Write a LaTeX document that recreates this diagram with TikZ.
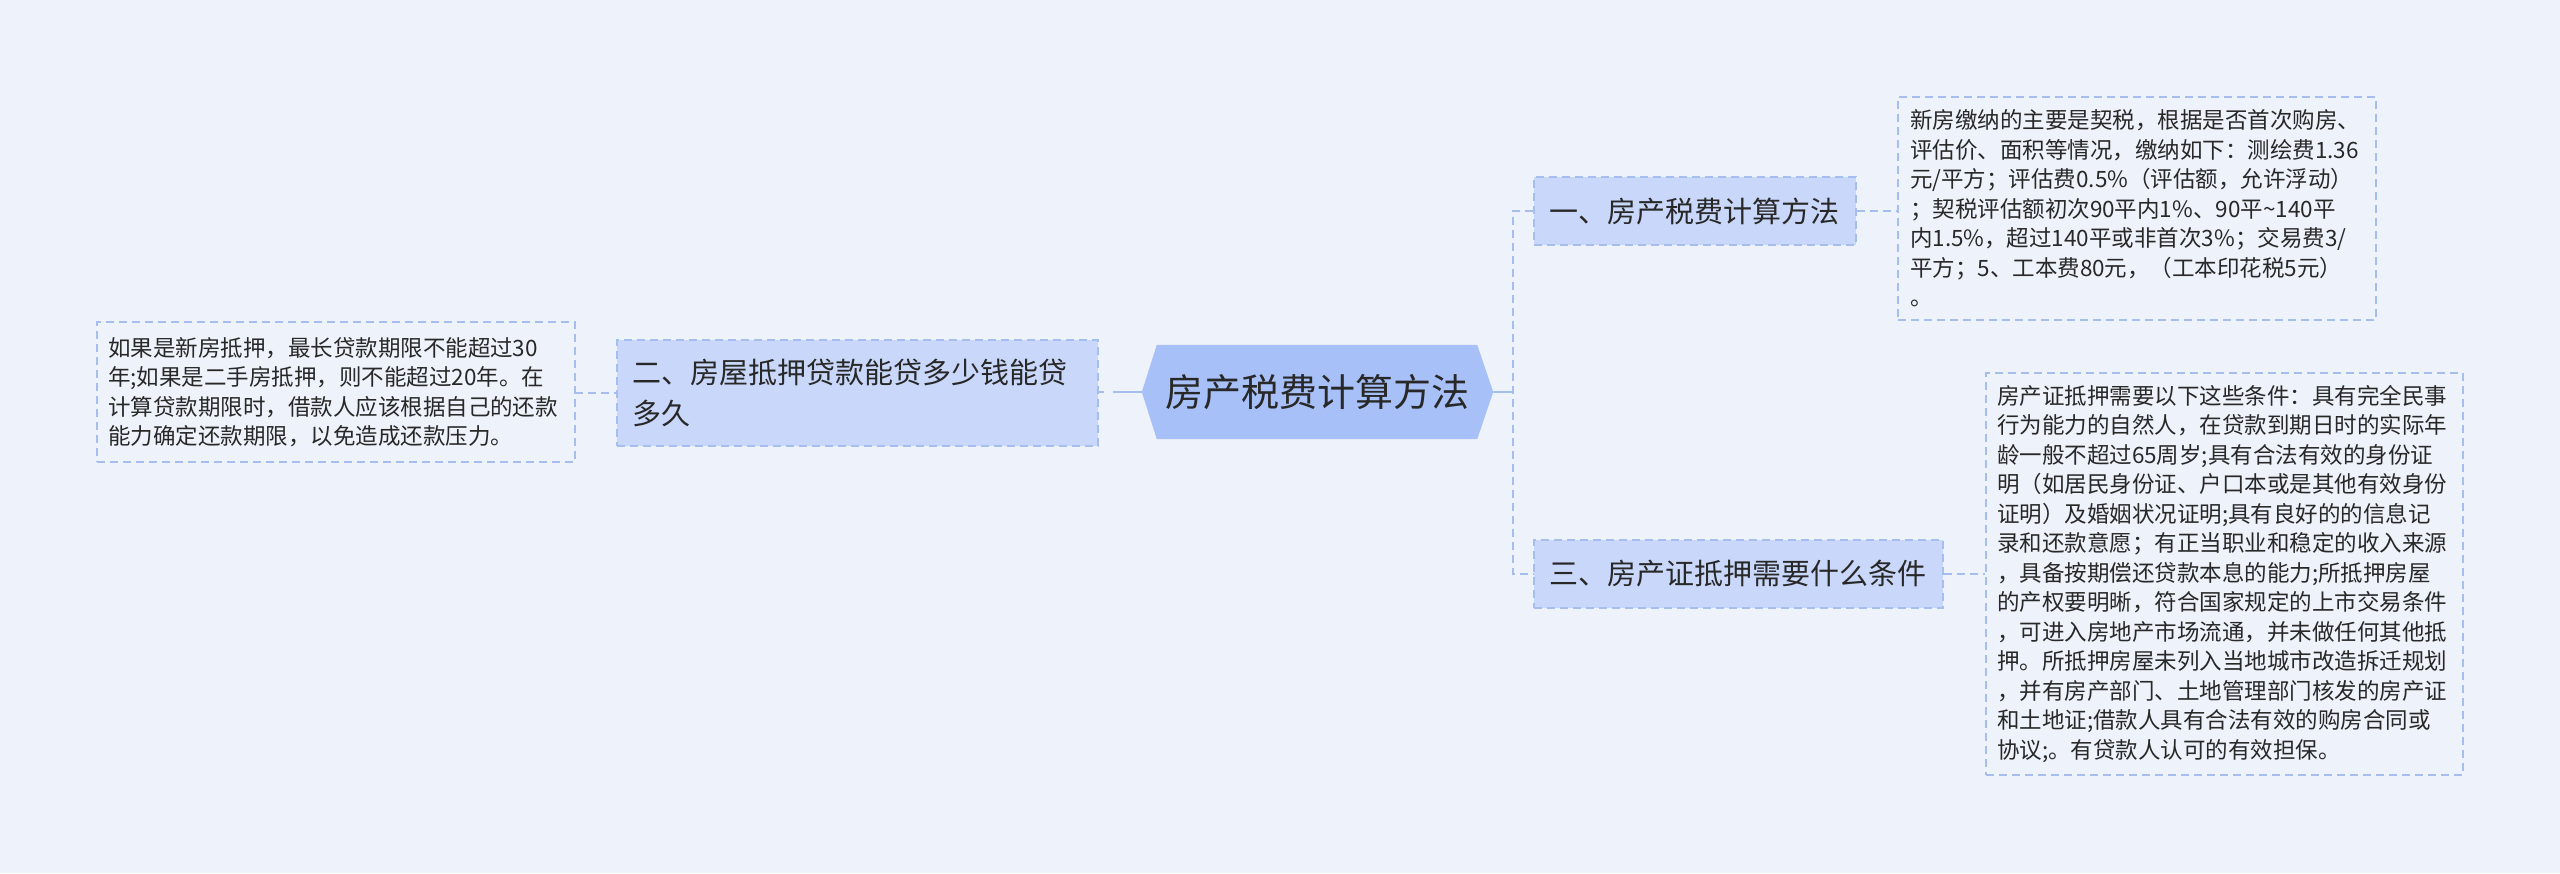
\documentclass[tikz,border=0pt]{standalone}
\usepackage{fontspec}
\setmainfont{Noto Sans CJK SC}
\definecolor{bgc}{RGB}{238,242,250}
\definecolor{rootfill}{RGB}{167,192,247}
\definecolor{nodefill}{RGB}{201,216,250}
\definecolor{linec}{RGB}{166,190,238}
\definecolor{txt}{RGB}{40,40,40}
\tikzset{
  dashline/.style={draw=linec, line width=1.8pt, dash pattern=on 8pt off 5pt},
  solidline/.style={draw=linec, line width=2.4pt},
  topic/.style={dashline, fill=nodefill, text=txt, align=left, inner xsep=15pt, inner ysep=0pt,
    font=\fontsize{29pt}{41pt}\selectfont},
  leaf/.style={dashline, text=txt, align=left, inner xsep=11pt, inner ysep=0pt,
    font=\fontsize{22.5pt}{29.5pt}\selectfont},
}
\begin{document}
\begin{tikzpicture}[x=1pt,y=-1pt]
\path[fill=bgc] (0,0) rectangle (2560,873);
\useasboundingbox (0,0) rectangle (2560,873);

% root
\node[minimum width=351pt, minimum height=94pt, inner sep=0pt] (root) at (1317.5,392) {};
\fill[rootfill] (root.west) -- ([xshift=15pt]root.north west) -- ([xshift=-16pt]root.north east)
  -- (root.east) -- ([xshift=-16pt]root.south east) -- ([xshift=15pt]root.south west) -- cycle;
\node[text=txt, font=\fontsize{38pt}{44pt}\selectfont] (roottext) at (1317.5,392) {房产税费计算方法};

% left topic and leaf
\node[topic, text width=451pt, minimum height=106pt] (n2) at (857.5,393)
  {二、房屋抵押贷款能贷多少钱能贷\\多久};
\node[leaf, text width=456pt, minimum height=140pt] (l2) at (336,392)
  {如果是新房抵押，最长贷款期限不能超过30\\年;如果是二手房抵押，则不能超过20年。在\\计算贷款期限时，借款人应该根据自己的还款\\能力确定还款期限，以免造成还款压力。};

% right topics
\node[topic, text width=292pt, minimum height=68pt] (n1) at (1695,211) {一、房产税费计算方法};
\node[topic, text width=379pt, minimum height=68pt] (n3) at (1738.5,574) {三、房产证抵押需要什么条件};

% right leaves
\node[leaf, inner xsep=12pt, text width=454pt, minimum height=223pt] (l1) at (2137,208.5)
  {新房缴纳的主要是契税，根据是否首次购房、\\评估价、面积等情况，缴纳如下：测绘费1.36\\元/平方；评估费0.5\%（评估额，允许浮动）\\；契税评估额初次90平内1\%、90平\textasciitilde140平\\内1.5\%，超过140平或非首次3\%；交易费3/\\平方；5、工本费80元，（工本印花税5元）\\。};
\node[leaf, text width=455pt, minimum height=402pt] (l3) at (2224.5,574)
  {房产证抵押需要以下这些条件：具有完全民事\\行为能力的自然人，在贷款到期日时的实际年\\龄一般不超过65周岁;具有合法有效的身份证\\明（如居民身份证、户口本或是其他有效身份\\证明）及婚姻状况证明;具有良好的的信息记\\录和还款意愿；有正当职业和稳定的收入来源\\，具备按期偿还贷款本息的能力;所抵押房屋\\的产权要明晰，符合国家规定的上市交易条件\\，可进入房地产市场流通，并未做任何其他抵\\押。所抵押房屋未列入当地城市改造拆迁规划\\，并有房产部门、土地管理部门核发的房产证\\和土地证;借款人具有合法有效的购房合同或\\协议;。有贷款人认可的有效担保。};

% connectors
\coordinate (bus) at (1513,392);
\draw[solidline] (root.east) -- (bus);
\draw[dashline] (n1.west) -- (n1.west -| bus) -- (n3.west -| bus) -- (n3.west);
\draw[solidline, dash pattern=on 29pt off 9pt on 6pt off 100pt] (root.west) -- (root.west -| n2.east);
\draw[dashline] (n1.east) -- (n1.east -| l1.west);
\draw[dashline] (n3.east) -- (n3.east -| l3.west);
\draw[dashline] (l2.east) -- (l2.east |- n2.west) -- (n2.west);
\end{tikzpicture}
\end{document}
